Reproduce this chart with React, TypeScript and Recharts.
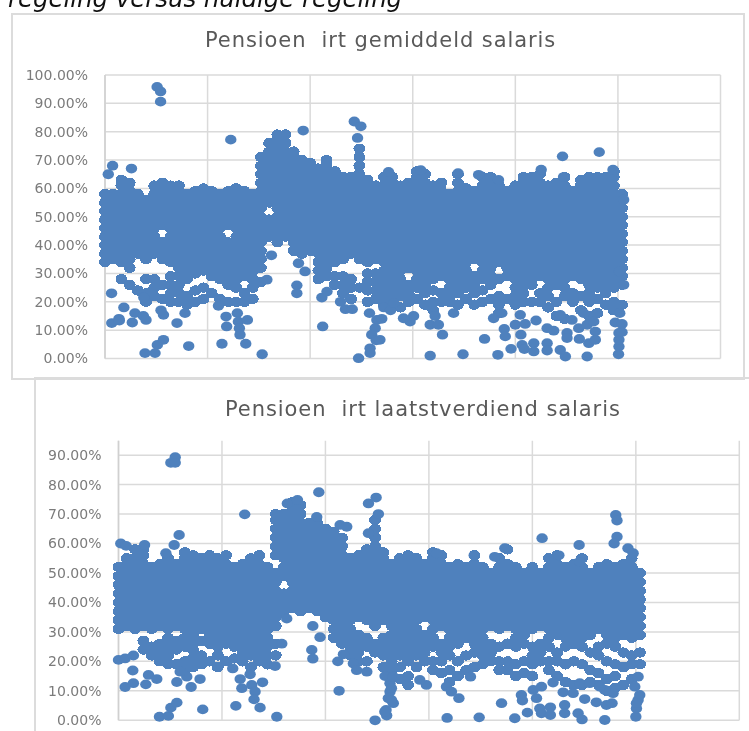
import { ScatterChart, Scatter, XAxis, YAxis, ReferenceLine } from "recharts";

const xTicks = [0, 500, 1000, 1500, 2000, 2500, 3000];
const yTicksGem = [0, 10, 20, 30, 40, 50, 60, 70, 80, 90, 100];
const yTicksLaatst = [0, 10, 20, 30, 40, 50, 60, 70, 80, 90];

// participants grouped per x position, pension %
const xColumns = [
  0, 40, 80, 120, 160, 200, 240, 280, 320, 360, 400, 440, 480, 520, 560, 600,
  640, 680, 720, 760, 800, 840, 880, 920, 960, 1000, 1040, 1080, 1120, 1160, 1200, 1240,
  1280, 1320, 1360, 1400, 1440, 1480, 1520, 1560, 1600, 1640, 1680, 1720, 1760, 1800, 1840, 1880,
  1920, 1960, 2000, 2040, 2080, 2120, 2160, 2200, 2240, 2280, 2320, 2360, 2400, 2440, 2480, 2520,
];

const gemColumns = [
  [34,37,40,43,46,49,52,55,58],
  [35,38,41,44,47,50,53,56,58],
  [28,34,37,40,43,46,49,52,55,58,61,63],
  [26,32,35,38,41,44,47,50,53,56,59,62],
  [24,37,40,43,46,49,52,55,58],
  [20,23,28,35,38,41,44,47,50,53,56],
  [22,25,28,37,40,43,46,49,52,55,58,61],
  [21,26,35,38,41,47,50,53,56,59,62],
  [20,23,26,29,34,37,40,43,46,49,52,55,58,61],
  [20,23,26,29,32,35,38,41,44,47,50,53,56,59,61],
  [19,22,28,31,34,37,40,43,46,49,52,55,58],
  [20,24,30,32,35,38,41,44,47,50,53,56,59],
  [21,25,31,34,37,40,43,46,49,52,55,58,60],
  [23,29,32,35,38,41,44,47,50,53,56,59],
  [21,28,31,34,37,40,43,46,49,52,55,58],
  [20,26,29,32,35,38,41,47,50,53,56,59],
  [20,25,28,31,34,37,40,43,46,49,52,55,58,60],
  [20,23,29,32,35,38,41,44,47,50,53,56,59],
  [21,25,28,31,34,37,40,43,46,49,52,55,58],
  [27,32,35,38,41,44,47,50,53,56,59,62,65,68,71],
  [43,46,49,55,58,61,64,67,70,73,76],
  [41,44,47,50,53,56,59,62,65,68,71,74,77,79],
  [43,46,49,52,55,58,61,64,67,70,73,76,79],
  [38,41,44,47,50,53,56,59,62,65,68,71,73],
  [37,40,43,46,49,52,55,58,61,64,67,70],
  [38,41,44,47,50,53,56,59,62,65,67,69],
  [28,31,34,37,40,43,46,49,52,55,58,61,64,67],
  [29,32,35,38,41,44,47,50,53,56,59,62,65,68,70],
  [26,29,34,37,40,43,46,49,52,55,58,61,64,66],
  [23,26,29,35,38,41,44,47,50,53,56,59,62,64],
  [21,25,28,37,40,43,46,49,52,55,58,61,64],
  [25,35,38,41,44,47,50,53,56,59,62,65,68,71,74],
  [20,24,27,30,34,37,40,43,46,49,52,55,58,61,63],
  [21,24,27,30,35,38,41,44,47,50,53,56,59,61],
  [19,22,25,28,31,34,37,40,43,46,49,52,55,58,61,64],
  [20,23,26,29,32,35,38,41,44,47,50,53,56,59,62,64],
  [18,22,25,28,31,34,37,40,43,46,49,52,55,58,61],
  [20,23,26,32,35,38,41,44,47,50,53,56,59,62],
  [21,25,28,31,34,37,40,43,46,49,52,55,58,61,64,66],
  [19,23,26,29,32,35,38,41,44,47,50,53,56,59,62,65],
  [17,20,24,28,31,34,37,40,43,46,49,52,55,58,61],
  [20,23,29,32,35,38,41,44,47,50,53,56,59,62],
  [20,22,25,28,31,34,37,40,43,46,49,52,55,58],
  [19,23,26,29,32,35,38,41,44,47,50,53,56,59,62,65],
  [21,25,28,31,34,37,40,43,46,49,52,55,58,60],
  [19,23,26,29,35,38,41,44,47,50,53,56,59],
  [20,24,28,31,34,37,40,43,46,49,52,55,58,61,64],
  [21,26,29,32,35,38,41,44,47,50,53,56,59,62,64],
  [16,19,22,28,34,37,40,43,46,49,52,55,58,61],
  [21,29,32,35,38,41,44,47,50,53,56,59],
  [19,22,25,28,31,34,37,40,43,46,49,52,55,58,61],
  [20,23,26,29,32,35,38,41,44,47,50,53,56,59,62,64],
  [20,26,28,31,34,37,40,43,46,49,52,55,58,61,64],
  [20,23,29,32,35,38,41,44,47,50,53,56,59,62,65],
  [18,22,25,28,31,34,37,40,43,46,49,52,55,58,61],
  [15,20,26,29,32,35,38,41,44,47,50,53,56,59,62],
  [14,22,25,28,31,34,37,40,43,46,49,52,55,58,61,64],
  [20,23,29,32,35,38,41,44,47,50,53,56,59],
  [17,22,28,31,34,37,40,43,46,49,52,55,58,61,63],
  [15,20,23,26,29,32,35,38,41,44,47,50,53,56,59,62,64],
  [16,21,25,28,31,34,37,40,43,46,49,52,55,58,61,64],
  [19,23,26,29,32,35,38,41,44,47,50,53,56,59,62,64],
  [17,20,25,28,31,34,37,40,43,46,49,52,55,58,61,64,66],
  [19,26,29,32,35,38,41,44,47,50,53,56,58],
];

const gemLoose = [
  [16,65],[37,68],[129,67],[92,18],[68,14],[33,12.5],[70,13.4],[133,12.7],[146,16],[187,15],
  [189,21.5],[32,23],[200,13.6],[285,15.4],[351,12.5],[273,17],[390,16],[195,1.9],[244,1.9],[255,4.8],
  [285,6.6],[408,4.4],[553,18.6],[590,14.8],[593,11.3],[570,5.2],[645,16],[650,13],[694,13.6],[655,10.7],
  [658,8.4],[686,5.2],[766,1.5],[811,36.4],[789,27.8],[935,25.8],[935,23],[943,33.6],[975,30.7],[1061,11.3],
  [1236,0.1],[1215,83.6],[1247,81.9],[1231,77.8],[966,80.4],[613,77.2],[254,95.8],[271,94.2],[271,90.6],[1057,21.5],
  [1082,23.6],[1148,20],[1172,17.4],[1205,17.4],[1289,16],[1325,13.6],[1349,14],[1317,10.7],[1300,8.4],[1322,6.4],
  [1292,3.6],[1292,1.9],[1359,18],[1392,17],[1408,19.5],[1340,6.6],[1585,1],[1745,1.5],[1915,1.3],[1645,8.4],
  [1850,6.9],[1946,10.4],[1951,7.8],[1979,3.4],[2033,4.8],[2044,3.3],[2090,5.4],[2090,2.5],[2155,5.4],[2155,2.8],
  [2219,3],[2244,0.7],[2350,0.7],[2252,9],[2252,7.2],[2312,6.9],[2358,5.4],[2390,6.6],[2390,9.5],[2503,1.5],
  [2505,4.2],[2505,6.6],[2505,9],[2520,9.3],[2155,10.7],[2187,9.8],[2101,13.4],[2024,15.4],[2000,11.9],[2048,12.2],
  [2027,8.4],[2309,10.7],[2350,11.9],[2487,12.7],[2520,12.2],[2509,16],[2333,16],[2382,13],[2276,13.6],[2219,15.4],
  [1487,13],[1455,14.2],[1504,15],[1609,15],[1585,11.9],[1625,11.9],[1699,16],[1894,14.2],[1934,16],[2230,71.3],
  [2409,72.8],[2476,66.6],[2126,66.6],[1539,66.4],[1721,65.4],[1821,64.8],[1382,65.8],[2235,64],[1918,63],[2528,56],
  [2528,26],[2508,30.7],
];

const laatstColumns = [
  [31,34,37,40,43,46,49,52],
  [32,35,38,41,44,47,50,53,55],
  [31,34,37,40,43,46,49,52,55,58],
  [24,27,32,35,38,41,44,47,50,53,56,58],
  [22,25,31,34,37,40,43,46,49,52],
  [20,23,26,32,35,38,41,44,47,50,53],
  [19,22,25,28,31,34,37,40,43,46,49,52,55],
  [19,24,27,32,35,38,41,44,47,50,53],
  [17,20,25,28,31,34,37,40,43,46,49,52,55,57],
  [18,21,24,26,29,32,35,38,41,44,47,50,53,56],
  [19,22,27,31,34,37,40,43,46,49,52,55],
  [20,26,29,32,35,38,41,44,47,50,53,56],
  [18,22,25,28,31,34,37,40,43,46,49,52,55],
  [20,26,29,32,35,38,41,44,47,50,53,56],
  [21,25,28,31,34,37,40,43,46,49,52],
  [20,23,26,29,32,35,38,41,44,47,50,53],
  [18,22,25,28,31,34,37,40,43,46,49,52,55],
  [20,23,26,29,32,35,38,41,44,47,50,53,56],
  [19,22,25,28,31,34,37,40,43,46,49,52],
  [22,26,32,35,38,41,44,47,50,56,59,62,65,68,70],
  [37,40,43,49,52,55,58,61,64,67,70],
  [38,41,44,47,50,53,56,59,62,65,68,71,74],
  [37,40,43,46,49,52,55,58,61,64,67,70,73],
  [38,41,44,47,50,53,56,59,62,65,67],
  [37,40,43,46,49,52,55,58,61,64,67],
  [35,38,41,44,47,50,53,56,59,62,65],
  [28,31,34,37,40,43,46,49,52,55,58,61,64],
  [26,29,32,35,38,41,44,47,50,53,56,59,62],
  [22,25,28,31,34,37,40,43,46,49,52,55],
  [20,23,26,29,35,38,41,44,47,50,53,56],
  [20,25,28,34,37,40,43,46,49,52,55,58],
  [23,26,32,35,38,41,44,47,50,53,56,59,62,65,68],
  [18,22,25,28,34,37,40,43,46,49,52,55,57],
  [17,20,23,26,29,32,35,38,41,44,47,50,53],
  [14,18,22,25,28,31,34,37,40,43,46,49,52,55],
  [12,15,20,23,26,29,32,35,38,41,44,47,50,53,56],
  [18,22,25,28,31,34,37,40,43,46,49,52,55],
  [20,23,26,29,35,38,41,44,47,50,53],
  [17,20,25,28,31,34,37,40,43,46,49,52,55,57],
  [16,20,23,26,32,35,38,41,44,47,50,53,56],
  [13,17,22,25,28,31,34,37,40,43,46,49,52],
  [15,20,26,29,32,35,38,41,44,47,50,53],
  [17,22,28,31,34,37,40,43,46,49,52],
  [18,23,26,29,32,35,38,41,44,47,50,53,56],
  [19,22,25,28,31,34,37,40,43,46,49,52],
  [20,23,26,32,35,38,41,44,47,50],
  [17,20,25,31,34,37,40,43,46,49,52,55],
  [17,20,26,32,35,38,41,44,47,50,53,58],
  [15,19,25,28,31,34,37,40,43,46,49,52],
  [16,20,26,29,32,35,38,41,44,47,50],
  [15,19,22,25,31,34,37,40,43,46,49,52],
  [20,23,26,32,35,38,41,44,47,50],
  [17,20,25,28,31,34,37,40,43,46,49,52,55],
  [15,20,23,29,32,35,38,41,44,47,50,53,56],
  [13,19,25,28,31,34,37,40,43,46,49,52],
  [12,20,26,29,32,35,38,41,44,47,50,53],
  [12,19,25,28,31,34,37,40,43,46,49,52,55],
  [13,17,23,29,32,35,38,41,44,47,50],
  [12,16,22,25,31,34,37,40,43,46,49,52],
  [10,14,20,26,29,32,35,38,41,44,47,50,53],
  [11,15,19,25,28,31,34,37,40,43,46,49,52],
  [12,18,23,29,32,35,38,41,44,47,50,53],
  [14,19,22,28,31,34,37,40,43,46,49,52,55],
  [19,23,29,32,35,38,41,44,47,50],
];

const laatstLoose = [
  [0,20.5],[32,21],[72,22],[69,16.9],[32,11.3],[72,12.6],[132,12.2],[145,15.4],[185,14],[282,13],
  [351,11.3],[394,14],[330,14.8],[298,16.5],[198,1.2],[241,1.5],[253,4.3],[282,6],[407,3.7],[567,4.9],
  [552,17.6],[588,14],[596,10.9],[636,15.6],[696,12.9],[644,12],[660,9.7],[655,7.1],[684,4.3],[765,1.2],
  [757,18.4],[789,26],[813,34.5],[934,23.9],[939,20.9],[974,28.2],[939,32],[1066,10],[1240,0],[1060,20],
  [1087,22.4],[1135,19.3],[1151,17],[1200,16.5],[1288,15],[1312,12.6],[1312,9.7],[1304,7.5],[1328,5.8],[1293,3.5],
  [1296,1.6],[274,89.3],[253,87.4],[274,87.4],[610,69.9],[968,77.4],[229,56.7],[269,59.5],[293,62.9],[11,60],
  [37,59.2],[126,59.5],[1071,66.3],[1103,65.7],[1208,73.6],[1245,75.6],[1256,70],[1208,63.5],[816,73.6],[865,74.8],
  [958,69],[1588,0.8],[1743,1],[1915,0.7],[1851,5.8],[1976,2.6],[1947,8.6],[1952,6.7],[1645,7.5],[2036,4],
  [2044,2.4],[2087,4.4],[2087,1.8],[2156,5.2],[2156,2.4],[2221,2.4],[2240,0.3],[2350,0.1],[2500,1.2],[2309,6.1],
  [2358,5.2],[2385,5.8],[2253,7.2],[2149,9.5],[2197,9.2],[2100,12.8],[2020,7.5],[2004,10.3],[2044,11.4],[1585,11.4],
  [1609,9.7],[1488,12],[1456,13.7],[1701,14.8],[2503,4],[2511,6.9],[2519,8.6],[2503,5.8],[2495,11.4],[2511,14.8],
  [2390,9.2],[2350,10.3],[2229,12.6],[2277,12.6],[2326,11.4],[1319,6.9],[1287,2.9],[1319,10.9],[1327,14.8],[2403,69.7],
  [2409,67.8],[2409,62.3],[2395,60],[2047,61.8],[2226,59.5],[2462,58.4],[2487,56.7],[1867,58.4],[1719,56],[1537,56.7],
  [2128,56],[1818,55.5],[2229,53.8],
];

const toPoints = (cols: number[][], loose: number[][]) => [
  ...cols.flatMap((ys, i) => ys.map((y) => ({ x: xColumns[i], y, dense: true }))),
  ...loose.map(([x, y]) => ({ x, y, dense: false })),
];

// Excel dots in the screenshot are a bit wider than tall.
// crispEdges on the dense block so neighbours close up without light speckles
const Dot = (props: any) =>
  props.dense ? (
    <ellipse cx={props.cx} cy={props.cy} rx={5.95} ry={5.2} fill="#4f81bd" shapeRendering="crispEdges" />
  ) : (
    <ellipse cx={props.cx} cy={props.cy} rx={5.7} ry={4.9} fill="#4f81bd" />
  );
const NoDot = () => null;

const tickStyle = { fill: "#7b7b7b", fontSize: 14, fontFamily: "DejaVu Sans" };
const fmt = (v: number) => v.toFixed(2) + "%";
const svgStyle = { position: "absolute" as const, left: 0, top: 0 };
const gridLine = { stroke: "#dadada", strokeWidth: 1.5 };

function Panel({
  data,
  yTicks,
  yMax,
  margin,
}: {
  data: { x: number; y: number; dense: boolean }[];
  yTicks: number[];
  yMax: number;
  margin: { top: number; right: number; bottom: number; left: number };
}) {
  return (
    <>
      {/* grid and axes in a chart of their own, so they stay under the dots */}
      <ScatterChart width={749} height={731} margin={margin} style={svgStyle}>
        <XAxis type="number" dataKey="x" domain={[0, 3000]} ticks={xTicks} tick={false} tickLine={false} height={0} axisLine={{ stroke: "#d0d0d0", strokeWidth: 1.5 }} />
        <YAxis type="number" dataKey="y" domain={[0, yMax]} ticks={yTicks} width={60} tickSize={0} tickMargin={17} tick={tickStyle} tickFormatter={fmt} axisLine={{ stroke: "#d0d0d0", strokeWidth: 1.5 }} />
        {yTicks.map((t) => (
          <ReferenceLine key={"y" + t} y={t} {...gridLine} />
        ))}
        {xTicks.map((t) => (
          <ReferenceLine key={"x" + t} x={t} {...gridLine} />
        ))}
        <Scatter data={data} shape={NoDot} isAnimationActive={false} />
      </ScatterChart>
      <ScatterChart width={749} height={731} margin={margin} style={svgStyle}>
        <XAxis type="number" dataKey="x" domain={[0, 3000]} ticks={xTicks} tick={false} tickLine={false} height={0} axisLine={false} />
        <YAxis type="number" dataKey="y" domain={[0, yMax]} ticks={yTicks} width={60} tick={false} tickLine={false} axisLine={false} />
        <Scatter data={data} shape={Dot} isAnimationActive={false} />
      </ScatterChart>
    </>
  );
}

const titleStyle = {
  position: "absolute" as const,
  fontFamily: "DejaVu Sans",
  fontSize: 21,
  letterSpacing: 0.92,
  color: "#595959",
  whiteSpace: "pre" as const,
  lineHeight: "24px",
};

export default function App() {
  return (
    <div style={{ position: "absolute", left: 0, top: 0, width: 749, height: 731, overflow: "hidden", background: "#fff", filter: "blur(0.5px)" }}>
      <div style={{ position: "absolute", left: 8, top: -15, fontFamily: "DejaVu Sans", fontStyle: "italic", fontSize: 24.4, lineHeight: "28px", color: "#111", whiteSpace: "pre" }}>
        regeling versus huidige regeling
      </div>
      <div style={{ position: "absolute", left: 11, top: 13, width: 730, height: 363, border: "2px solid #dcdcdc" }} />
      <div style={{ position: "absolute", left: 34, top: 377, width: 715, height: 360, borderLeft: "2px solid #dcdcdc", borderTop: "2px solid #dcdcdc" }} />
      <Panel
        data={toPoints(gemColumns, gemLoose)}
        yTicks={yTicksGem}
        yMax={100}
        margin={{ top: 75, right: 28.5, bottom: 372.5, left: 45 }}
      />
      <Panel
        data={toPoints(laatstColumns, laatstLoose)}
        yTicks={yTicksLaatst}
        yMax={94.9}
        margin={{ top: 440.7, right: 9.7, bottom: 10.7, left: 58.5 }}
      />
      <div style={{ ...titleStyle, left: 205, top: 28 }}>Pensioen  irt gemiddeld salaris</div>
      <div style={{ ...titleStyle, left: 225, top: 397 }}>Pensioen  irt laatstverdiend salaris</div>
    </div>
  );
}
